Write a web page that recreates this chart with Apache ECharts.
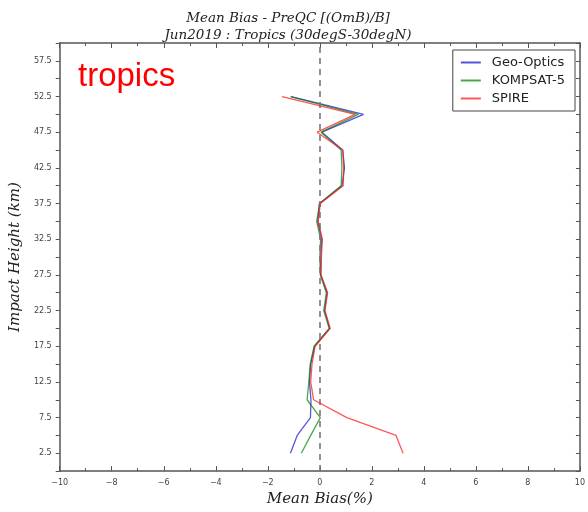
<!DOCTYPE html>
<html>
<head>
<meta charset="utf-8">
<script src="https://cdn.jsdelivr.net/npm/echarts@6/dist/echarts.min.js"></script>
<style>html,body{margin:0;padding:0;background:#fff}#c{width:588px;height:512px}</style>
</head>
<body>
<div id="c"></div>
<script>
const heights = [2.5, 5, 7.5, 10, 12.5, 15, 17.5, 20, 22.5, 25, 27.5, 30, 32.5, 35, 37.5, 40, 42.5, 45, 47.5, 50, 52.5];
const geoOptics = [-1.13, -0.87, -0.36, -0.34, -0.40, -0.35, -0.20, 0.38, 0.18, 0.28, 0.03, 0.04, 0.07, -0.08, -0.02, 0.85, 0.95, 0.88, 0.08, 1.68, -1.10];
const kompsat5 = [-0.71, -0.35, 0.02, -0.49, -0.42, -0.37, -0.22, 0.36, 0.15, 0.25, 0.02, 0.00, 0.03, -0.12, 0.00, 0.82, 0.85, 0.82, 0.05, 1.48, -1.13];
const spire = [3.20, 2.93, 1.04, -0.24, -0.35, -0.30, -0.18, 0.40, 0.20, 0.30, 0.05, 0.06, 0.10, -0.06, 0.02, 0.90, 0.92, 0.88, -0.10, 1.36, -1.45];
const seriesNames = ['Geo-Optics', 'KOMPSAT-5', 'SPIRE'];
const seriesColors = ['rgba(30,30,200,0.75)', 'rgba(0,128,0,0.7)', 'rgba(255,30,30,0.75)'];
const titleLines = ['Mean Bias - PreQC [(OmB)/B]', 'Jun2019 : Tropics (30degS-30degN)'];

const chart = echarts.init(document.getElementById('c'), null, {renderer: 'canvas'});
const pairs = v => v.map((x, i) => [x, heights[i]]);
const allData = [geoOptics, kompsat5, spire];
const tickFont = {fontFamily: 'DejaVu Sans', fontSize: 8, color: '#444'};
const axLine = {show: true, onZero: false, lineStyle: {color: '#555', width: 1.5}};
const titleStyle = {fontFamily: 'DejaVu Serif', fontStyle: 'italic', fontWeight: 'normal', fontSize: 13.5, color: '#222'};

const series = allData.map((d, i) => ({
  name: seriesNames[i], type: 'line', data: pairs(d), showSymbol: false, symbol: 'none',
  lineStyle: {color: seriesColors[i], width: 1.3}, itemStyle: {color: seriesColors[i]},
  animation: false, z: 3 + i
}));
series[0].markLine = {
  silent: true, symbol: 'none', label: {show: false}, animation: false,
  lineStyle: {color: '#777', type: [6, 5], width: 1.6},
  data: [{xAxis: 0}]
};

chart.setOption({
  animation: false,
  title: [
    {text: titleLines[0], left: 283, top: 6, textAlign: 'center', textStyle: titleStyle},
    {text: titleLines[1], left: 283, top: 23, textAlign: 'center', textStyle: titleStyle}
  ],
  graphic: [
    {type: 'text', left: 78, top: 60, style: {text: 'tropics', fill: '#ff0000', font: '33px "Liberation Sans", sans-serif'}}
  ],
  legend: {
    orient: 'vertical', right: 13, top: 50, itemGap: 5, itemWidth: 20, itemHeight: 2,
    padding: [6, 10, 6, 8], borderColor: '#444', borderWidth: 1, backgroundColor: '#fff',
    textStyle: {fontFamily: 'DejaVu Sans', fontSize: 13, color: '#222', padding: [0, 0, 0, 6]},
    data: seriesNames.map(n => ({name: n, icon: 'rect'}))
  },
  grid: {left: 58, right: 7, top: 43, bottom: 37},
  xAxis: [
    {type: 'value', min: -10, max: 10, interval: 2, position: 'bottom',
     name: 'Mean Bias(%)', nameLocation: 'middle', nameGap: 19,
     nameTextStyle: {fontFamily: 'DejaVu Serif', fontStyle: 'italic', fontSize: 15, color: '#222'},
     axisLine: axLine, axisTick: {show: true, inside: true, length: 5, lineStyle: {color: '#555'}},
     minorTick: {show: true, splitNumber: 2, length: 3, lineStyle: {color: '#555'}},
     splitLine: {show: false},
     axisLabel: Object.assign({margin: 8, formatter: v => (v < 0 ? '\u2212' + (-v) : String(v))}, tickFont)},
    {type: 'value', min: -10, max: 10, interval: 2, position: 'top',
     axisLine: axLine, axisTick: {show: true, inside: true, length: 5, lineStyle: {color: '#555'}},
     minorTick: {show: true, splitNumber: 2, length: 3, lineStyle: {color: '#555'}},
     splitLine: {show: false}, axisLabel: {show: false}}
  ],
  yAxis: [
    {type: 'value', min: 0, max: 60, interval: 2.5, position: 'left',
     name: 'Impact Height (km)', nameLocation: 'middle', nameGap: 35,
     nameTextStyle: {fontFamily: 'DejaVu Serif', fontStyle: 'italic', fontSize: 15, color: '#222'},
     axisLine: axLine, axisTick: {show: true, inside: false, length: 4, lineStyle: {color: '#555'}},
     splitLine: {show: false},
     axisLabel: Object.assign({margin: 8, formatter: v => (Math.abs(v % 5 - 2.5) < 1e-6 ? v.toFixed(1) : '')}, tickFont)},
    {type: 'value', min: 0, max: 60, interval: 2.5, position: 'right',
     axisLine: axLine, axisTick: {show: true, inside: true, length: 4, lineStyle: {color: '#555'}},
     splitLine: {show: false}, axisLabel: {show: false}}
  ],
  series: series
});
</script>
</body>
</html>
